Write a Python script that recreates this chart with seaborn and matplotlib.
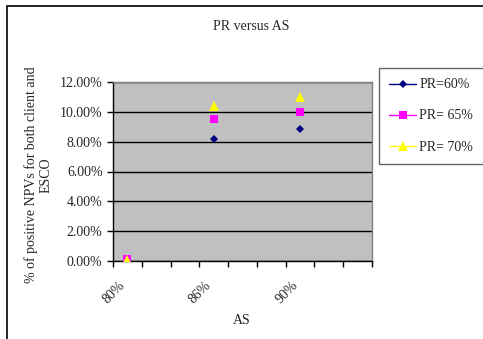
import numpy as np
import matplotlib
matplotlib.use("Agg")
import matplotlib.pyplot as plt
import matplotlib.patches as mpatches
import matplotlib.transforms as mtransforms
import seaborn as sns
import pandas as pd

categories = ["80%", "", "", "86%", "", "", "90%", "", ""]
pr60 = [0.0, np.nan, np.nan, 8.18, np.nan, np.nan, 8.87, np.nan, np.nan]
pr65 = [0.15, np.nan, np.nan, 9.54, np.nan, np.nan, 9.97, np.nan, np.nan]
pr70 = [0.10, np.nan, np.nan, 10.41, np.nan, np.nan, 10.97, np.nan, np.nan]
series_names = ["PR=60%", "PR= 65%", "PR= 70%"]
yticks = [0, 2, 4, 6, 8, 10, 12]

sns.set_theme(style="white")
plt.rcParams['font.family'] = ['Liberation Serif', 'DejaVu Serif']

W, H = 483, 339
FS = 10
fig = plt.figure(figsize=(W / 100, H / 100), dpi=100)
ax = fig.add_axes([113 / W, 1 - 261 / H, (372 - 113) / W, (261 - 82) / H])
ax.set_facecolor("#C0C0C0")

x = np.arange(len(categories))
df = pd.DataFrame({"x": x, series_names[0]: pr60, series_names[1]: pr65, series_names[2]: pr70})
styles = [("#000080", "D", 4.5), ("#FF00FF", "s", 6), ("#FFFF00", "^", 7)]
for name, (c, m, ms) in zip(series_names, styles):
    ax.plot(df["x"], df[name], color=c, marker=m, markersize=ms, linestyle='-',
            linewidth=1, label=name, markeredgewidth=0, zorder=3)

ax.set_xlim(-0.5, len(categories) - 0.5)
ax.set_ylim(0, 12)
ax.set_yticks(yticks)
ax.set_yticklabels([f"{v:.2f}%" for v in yticks], fontsize=FS)
ax.yaxis.grid(True, color="black", linewidth=1)
ax.set_axisbelow(True)

ax.set_xticks(np.arange(-0.5, len(categories), 1.0))
ax.set_xticklabels([])
ax.tick_params(axis='x', which='major', length=4, width=1, color="black", direction="out")
ax.tick_params(axis='y', length=4, width=1, color="black", direction="out", left=True)
ax.tick_params(axis='x', bottom=True)

blend = mtransforms.blended_transform_factory(ax.transData, ax.transAxes)
offset = mtransforms.ScaledTranslation(-9 / 100, -18 / 100, fig.dpi_scale_trans)
for i, c in enumerate(categories):
    if c:
        ax.text(i, 0, c, transform=blend + offset, rotation=45, ha="right", va="top",
                rotation_mode="anchor", fontsize=FS, clip_on=False)

for s in ["left", "bottom"]:
    ax.spines[s].set_color("black")
    ax.spines[s].set_linewidth(1)
for s in ["top", "right"]:
    ax.spines[s].set_color("#808080")
    ax.spines[s].set_linewidth(1)

fig.text(251 / W, 1 - 26 / H, "PR versus AS", ha="center", va="center", fontsize=FS)
fig.text(242 / W, 1 - 320 / H, "AS", ha="center", va="center", fontsize=FS)
fig.text(38 / W, 1 - 175 / H, "% of positive NPVs for both client and\nESCO", ha="center",
         va="center", rotation=90, fontsize=FS, linespacing=1.15)

leg = ax.legend(loc="upper left", bbox_to_anchor=(379 / W, 1 - 68 / H),
                bbox_transform=fig.transFigure, frameon=True, fontsize=FS,
                handlelength=1.9, handletextpad=0.25, labelspacing=1.3,
                borderpad=0.75, borderaxespad=0, fancybox=False)
leg.get_frame().set_edgecolor("#404040")
leg.get_frame().set_linewidth(1)

border = mpatches.Rectangle((7 / W, -0.1), 1.2, 1 - 6 / H + 0.1, transform=fig.transFigure,
                            fill=False, edgecolor="black", linewidth=1.2)
fig.patches.append(border)

fig.savefig("out.png", dpi=100)
